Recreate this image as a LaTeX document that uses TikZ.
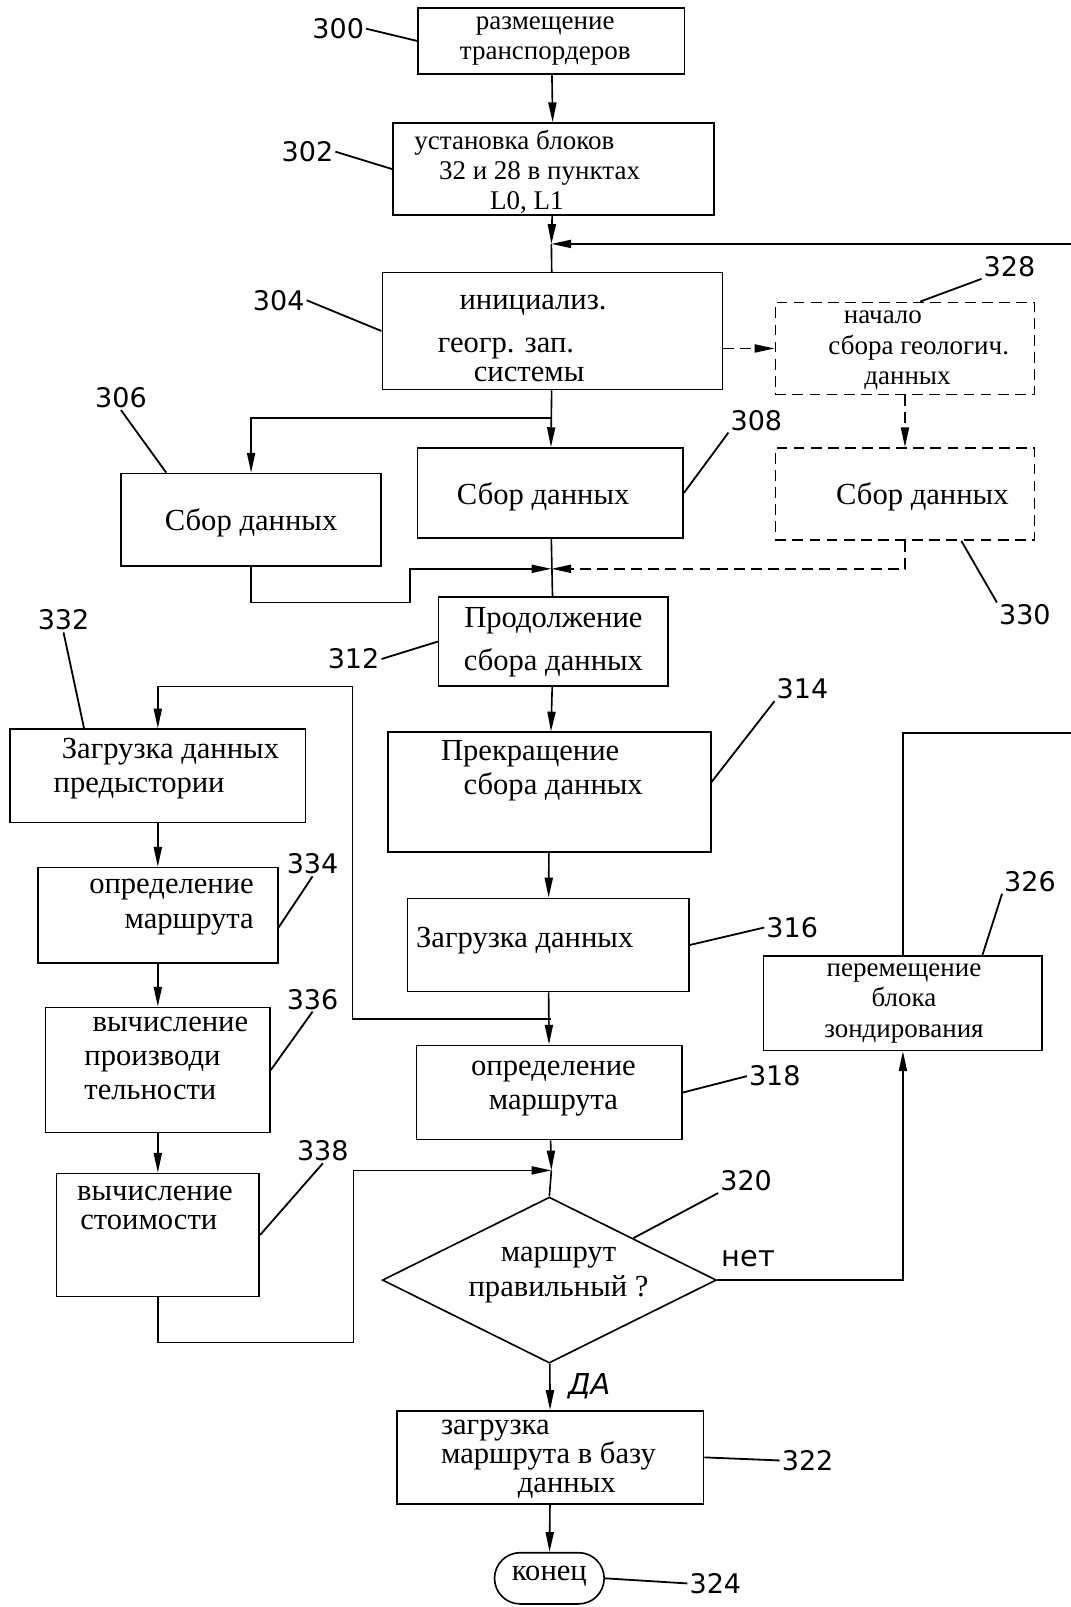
\documentclass[tikz,border=0pt]{standalone}
\usepackage{fontspec}
\setmainfont{Liberation Serif}
\newfontfamily\numfont{DejaVu Sans}
\usetikzlibrary{arrows.meta,shapes.geometric}
\tikzset{
    box/.style={draw, line width=0.9pt, inner sep=0pt},
    dbox/.style={box, dash pattern=on 6pt off 3.5pt},
    txt/.style={font=\fontsize{17}{19}\selectfont, align=center, inner sep=0pt},
    num/.style={font=\numfont\fontsize{15}{15}\selectfont, inner sep=1pt},
    conn/.style={line width=0.9pt},
    lead/.style={line width=1pt},
    >={Triangle[length=11pt,width=4.5pt]}
}
\begin{document}
\begin{tikzpicture}[x=0.02cm,y=-0.02cm]
        \useasboundingbox (0,0) rectangle (1045,1568);

        \node[box, minimum width=5.2cm, minimum height=1.28cm] (b300) at (538,40) {};
        \node[box, minimum width=6.26cm, minimum height=1.8cm] (b302) at (540,165) {};
        \node[box, minimum width=6.64cm, minimum height=2.28cm] (b304) at (539,323) {};
        \node[dbox, minimum width=5.06cm, minimum height=1.8cm] (b328) at (883,340) {};
        \node[box, minimum width=5.08cm, minimum height=1.8cm] (b306) at (245,507) {};
        \node[box, minimum width=5.18cm, minimum height=1.76cm] (b308) at (537,481) {};
        \node[dbox, minimum width=5.06cm, minimum height=1.8cm] (b330) at (883,482) {};
        \node[box, minimum width=4.48cm, minimum height=1.74cm] (b312) at (540,626) {};
        \node[box, minimum width=6.3cm, minimum height=2.34cm] (b314) at (536,773) {};
        \node[box, minimum width=5.5cm, minimum height=1.82cm] (b316) at (535,922) {};
        \node[box, minimum width=5.18cm, minimum height=1.84cm] (b318) at (536,1066) {};
        \node[box, diamond, minimum width=6.52cm, minimum height=3.24cm] (d320) at (536,1249) {};
        \node[box, minimum width=5.98cm, minimum height=1.82cm] (b322) at (537,1422) {};
        \node[box, rounded corners=0.5cm, minimum width=2.14cm, minimum height=1cm] (e324) at (536,1540) {};
        \node[box, minimum width=5.44cm, minimum height=1.84cm] (b326) at (881,979) {};
        \node[box, minimum width=5.76cm, minimum height=1.82cm] (b332) at (154,757) {};
        \node[box, minimum width=4.68cm, minimum height=1.86cm] (b334) at (154,893) {};
        \node[box, minimum width=4.38cm, minimum height=2.44cm] (b336) at (154,1044) {};
        \node[box, minimum width=3.96cm, minimum height=2.4cm] (b338) at (154,1205) {};

        \node[txt, font=\fontsize{15}{16.7}\selectfont] (t300) at (532,40) {размещение\\транспордеров};
        \node[txt, align=left, anchor=west, font=\fontsize{15}{16.7}\selectfont] (t302) at (404,168) {установка блоков\\\hspace*{0.48cm}32 и 28 в пунктах\\\hspace*{1.48cm}L0, L1};
        \node[txt, align=left, anchor=west, font=\fontsize{17}{16}\selectfont] (t304) at (427,330) {\hspace*{0.42cm}инициализ.\\[8pt]геогр. зап.\\\hspace*{0.7cm}системы};
        \node[txt, align=left, anchor=west, font=\fontsize{15}{17}\selectfont] (t328) at (808,342) {\hspace*{0.3cm}начало\\сбора геологич.\\\hspace*{0.7cm}данных};
        \node[txt] (t306) at (245,510) {Сбор данных};
        \node[txt] (t308) at (530,485) {Сбор данных};
        \node[txt] (t330) at (900,485) {Сбор данных};
        \node[txt, font=\fontsize{17}{24}\selectfont] (t312) at (540,627) {Продолжение\\сбора данных};
        \node[txt, align=left, anchor=west] (t314) at (430,752) {Прекращение\\\hspace*{0.44cm}сбора данных};
        \node[txt] (t316) at (512,918) {Загрузка данных};
        \node[txt] (t318) at (540,1062) {определение\\маршрута};
        \node[txt] (t320) at (545,1244) {маршрут\\правильный ?};
        \node[txt, align=left, anchor=west, font=\fontsize{17}{16}\selectfont] (t322) at (430,1424) {загрузка\\маршрута в базу\\\hspace*{1.5cm}данных};
        \node[txt] (t324) at (536,1538) {конец};
        \node[txt, font=\fontsize{15}{17}\selectfont] (t326) at (882,979) {перемещение\\блока\\зондирования};
        \node[txt, align=left, anchor=west] (t332) at (52,750) {\hspace*{0.16cm}Загрузка данных\\предыстории};
        \node[txt, align=right, anchor=east] (t334) at (248,885) {определение\\маршрута};
        \node[txt, align=left, anchor=west] (t336) at (82,1033) {\hspace*{0.16cm}вычисление\\производи\\тельности};
        \node[txt, align=left, anchor=west, font=\fontsize{17}{16}\selectfont] (t338) at (75,1179) {вычисление\\\hspace*{0.06cm}стоимости};

        \node[num] (l300) at (330,28) {300};
        \node[num] (l302) at (300,148) {302};
        \node[num] (l304) at (272,293) {304};
        \node[num] (l306) at (118,388) {306};
        \node[num] (l308) at (738,410) {308};
        \node[num] (l328) at (985,260) {328};
        \node[num] (l330) at (1000,600) {330};
        \node[num] (l312) at (345,643) {312};
        \node[num] (l314) at (783,672) {314};
        \node[num] (l316) at (773,905) {316};
        \node[num] (l318) at (756,1050) {318};
        \node[num] (l320) at (728,1152) {320};
        \node[num] (l322) at (788,1425) {322};
        \node[num] (l324) at (698,1545) {324};
        \node[num] (l326) at (1005,860) {326};
        \node[num] (l332) at (62,605) {332};
        \node[num] (l334) at (305,843) {334};
        \node[num] (l336) at (305,975) {336};
        \node[num] (l338) at (315,1123) {338};
        \node[num, font=\numfont\fontsize{16}{16}\selectfont] (no) at (730,1228) {нет};
        \node[num, font=\numfont\itshape\fontsize{16}{16}\selectfont] (yes) at (575,1353) {ДА};

        \coordinate (j1) at (538,238);
        \coordinate (j2) at (538,408);
        \coordinate (j3) at (538,555);
        \coordinate (j4) at (538,994);
        \coordinate (j5) at (538,1142);

        \foreach \from / \to in {b300/b302, b304/b308, b312/b314, b314/b316, b316/b318, d320/b322, b322/e324, b332/b334, b334/b336, b336/b338}
            \draw[conn,->] (\from) -- (\to);
        \draw[conn,->] (b302) -- (j1);
        \draw[conn] (j1) -- (b304);
        \draw[conn,->] (b326.north) |- (1052,715) -- (1052,238) -- (j1);
        \draw[conn,->] (j2) -| (b306);
        \draw[conn,->,dash pattern=on 6pt off 3.5pt] (b304.east |- b328) -- (b328);
        \draw[conn,->,dash pattern=on 6pt off 3.5pt] (b328) -- (b330);
        \draw[conn,->] (b306.south) -- (245,588) -- (400,588) -- (400,555) -- (j3);
        \draw[conn,->,dash pattern=on 6pt off 3.5pt] (b330.south) |- (j3);
        \draw[conn] (b308) -- (b312);
        \draw[conn,->] (j4) -- (344,994) |- (154,670) -- (b332);
        \draw[conn,->] (b338.south) -- (154,1310) -| (345,1142) -- (j5);
        \draw[conn,->] (b318) -- (j5);
        \draw[conn] (j5) -- (d320.north);
        \draw[conn,->] (d320.east) -| (b326.south);

        \draw[lead] (l300.east) -- (b300.west);
        \draw[lead] (l302.east) -- (b302.west);
        \draw[lead] (l304.east) -- (b304.west);
        \draw[lead] (l306.south) -- ([xshift=0.9cm]b306.north west);
        \draw[lead] (l308.south west) -- (b308.east);
        \draw[lead] (l328.south west) -- ([xshift=0.3cm]b328.north);
        \draw[lead] (l330.north west) -- ([xshift=1.1cm]b330.south);
        \draw[lead] (l312.east) -- (b312.west);
        \draw[lead] (l314.south west) -- ([yshift=0.2cm]b314.east);
        \draw[lead] (l316.west) -- (b316.east);
        \draw[lead] (l318.west) -- (b318.east);
        \draw[lead] (l320.south west) -- (d320.north east);
        \draw[lead] (l322.west) -- (b322.east);
        \draw[lead] (l324.west) -- (e324.east);
        \draw[lead] (l326.south west) -- ([xshift=1.55cm]b326.north);
        \draw[lead] (l332.south) -- ([xshift=-1.44cm]b332.north);
        \draw[lead] (l334.south) -- ([yshift=-0.24cm]b334.east);
        \draw[lead] (l336.south) -- (b336.east);
        \draw[lead] (l338.south) -- (b338.east);
    \end{tikzpicture}
\end{document}
